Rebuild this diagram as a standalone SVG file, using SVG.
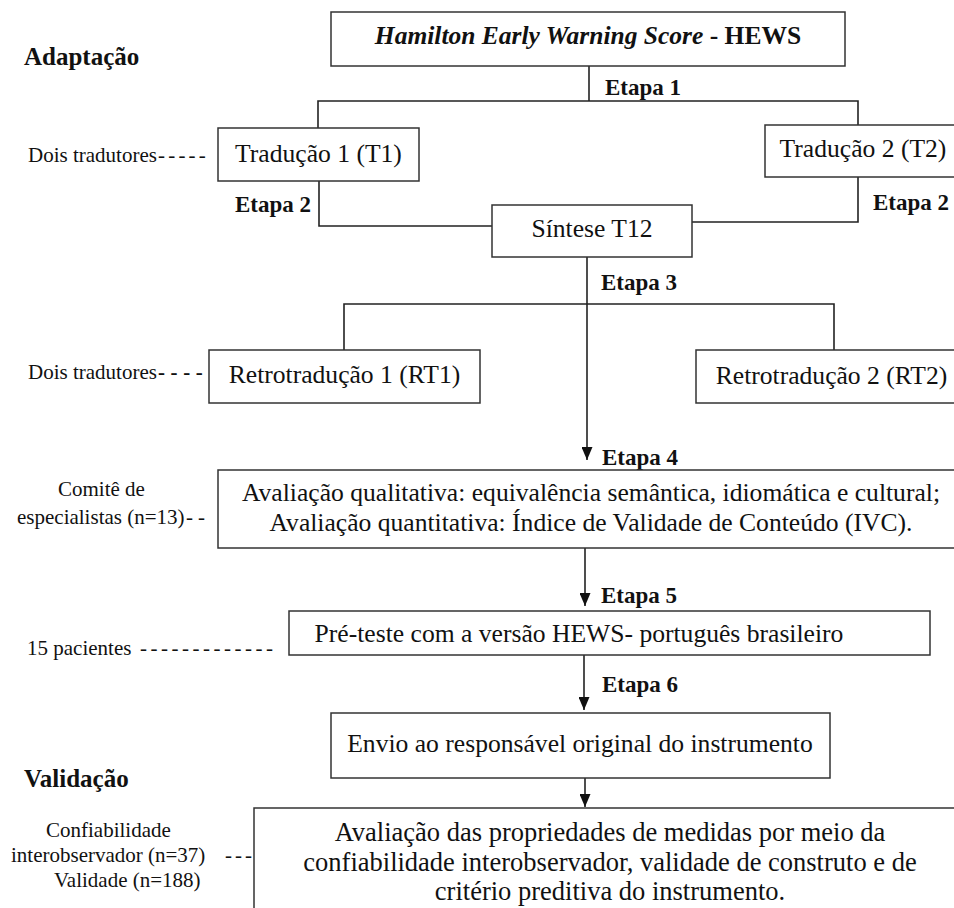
<svg xmlns="http://www.w3.org/2000/svg" width="954" height="908" viewBox="0 0 954 908">
<defs>
<marker id="arr" markerUnits="userSpaceOnUse" markerWidth="13" markerHeight="11" refX="13" refY="5.5" orient="auto">
<path d="M0,0 L13,5.5 L0,11 Z" fill="#111"/>
</marker>
<style>
.box{fill:#fff;stroke:#333;stroke-width:1.5}
.ln{fill:none;stroke:#222;stroke-width:1.6}
.t{font-family:'Liberation Serif','Times New Roman',serif;fill:#111}
.node{font-size:25.6px;text-anchor:middle}
.big{font-size:26.5px;text-anchor:middle}
.lab{font-size:21px}
.et{font-size:23px;font-weight:bold}
.sec{font-size:25px;font-weight:bold}
</style>
</defs>
<rect width="954" height="908" fill="#fff"/>

<g id="connectors">
<path class="ln" d="M589,66 V101"/>
<path class="ln" d="M318,128 V101 H858 V125"/>
<path class="ln" d="M319,181 V226 H492"/>
<path class="ln" d="M858,177 V222 H692"/>
<path class="ln" d="M344,350 V304 H834 V350"/>
<path class="ln" d="M587,257 V460" marker-end="url(#arr)"/>
<path class="ln" d="M585,548 V606" marker-end="url(#arr)"/>
<path class="ln" d="M584,655 V710" marker-end="url(#arr)"/>
<path class="ln" d="M585,778 V807" marker-end="url(#arr)"/>
</g>

<g font-family="'Liberation Serif', 'Times New Roman', serif">
<g id="section-labels">
<text class="t sec" x="24" y="65">Adaptação</text>
<text class="t sec" x="24" y="787">Validação</text>
</g>

<g id="etapas">
<text class="t et" x="605" y="95">Etapa 1</text>
<text class="t et" x="235" y="212">Etapa 2</text>
<text class="t et" x="873" y="210">Etapa 2</text>
<text class="t et" x="601" y="290">Etapa 3</text>
<text class="t et" x="602" y="465">Etapa 4</text>
<text class="t et" x="601" y="603">Etapa 5</text>
<text class="t et" x="602" y="692">Etapa 6</text>
</g>

<g id="side-notes">
<text class="t lab" x="28" y="162">Dois tradutores<tspan x="158" letter-spacing="3.2">-----</tspan></text>
<text class="t lab" x="28" y="379">Dois tradutores<tspan x="158" letter-spacing="5.6" font-weight="bold">----</tspan></text>
<text class="t lab" x="58" y="496">Comitê de</text>
<text class="t lab" x="17" y="524">especialistas (n=13)<tspan x="186" letter-spacing="5">--</tspan></text>
<text class="t lab" x="27" y="655">15 pacientes <tspan x="140" letter-spacing="3.5">-------------</tspan></text>
<text class="t lab" x="46" y="837">Confiabilidade</text>
<text class="t lab" x="11" y="862">interobservador (n=37) <tspan x="225" letter-spacing="3">---</tspan></text>
<text class="t lab" x="54" y="887">Validade (n=188)</text>
</g>

<g id="hews">
<rect class="box" x="331" y="12" width="514" height="54"/>
<text class="t" x="588" y="44" font-size="25.5" text-anchor="middle" font-weight="bold"><tspan font-style="italic">Hamilton Early Warning Score</tspan> - HEWS</text>
</g>

<g id="t1">
<rect class="box" x="218" y="128" width="201" height="53"/>
<text class="t node" x="318.5" y="162">Tradução 1 (T1)</text>
</g>

<g id="t2">
<rect class="box" x="765" y="125" width="195" height="52"/>
<text class="t node" x="863" y="157">Tradução 2 (T2)</text>
</g>

<g id="t12">
<rect class="box" x="492" y="205" width="200" height="52"/>
<text class="t node" x="592" y="237">Síntese T12</text>
</g>

<g id="rt1">
<rect class="box" x="209" y="350" width="271" height="53"/>
<text class="t node" x="344.5" y="383">Retrotradução 1 (RT1)</text>
</g>

<g id="rt2">
<rect class="box" x="696" y="350" width="264" height="53"/>
<text class="t node" x="831.5" y="384">Retrotradução 2 (RT2)</text>
</g>

<g id="comite">
<rect class="box" x="218" y="470" width="742" height="78"/>
<text class="t node" x="591" y="501" font-size="26">Avaliação qualitativa: equivalência semântica, idiomática e cultural;</text>
<text class="t node" x="591" y="531" font-size="26">Avaliação quantitativa: Índice de Validade de Conteúdo (IVC).</text>
</g>

<g id="preteste">
<rect class="box" x="289" y="611" width="641" height="44"/>
<text class="t node" x="579" y="642">Pré-teste com a versão HEWS- português brasileiro</text>
</g>

<g id="envio">
<rect class="box" x="331" y="713" width="499" height="65"/>
<text class="t node" x="580" y="752">Envio ao responsável original do instrumento</text>
</g>

<g id="validacao">
<rect class="box" x="254" y="808" width="706" height="110"/>
<text class="t big" x="610" y="841">Avaliação das propriedades de medidas por meio da</text>
<text class="t big" x="610" y="871">confiabilidade interobservador, validade de construto e de</text>
<text class="t big" x="610" y="900">critério preditiva do instrumento.</text>
</g>
</g>
</svg>
